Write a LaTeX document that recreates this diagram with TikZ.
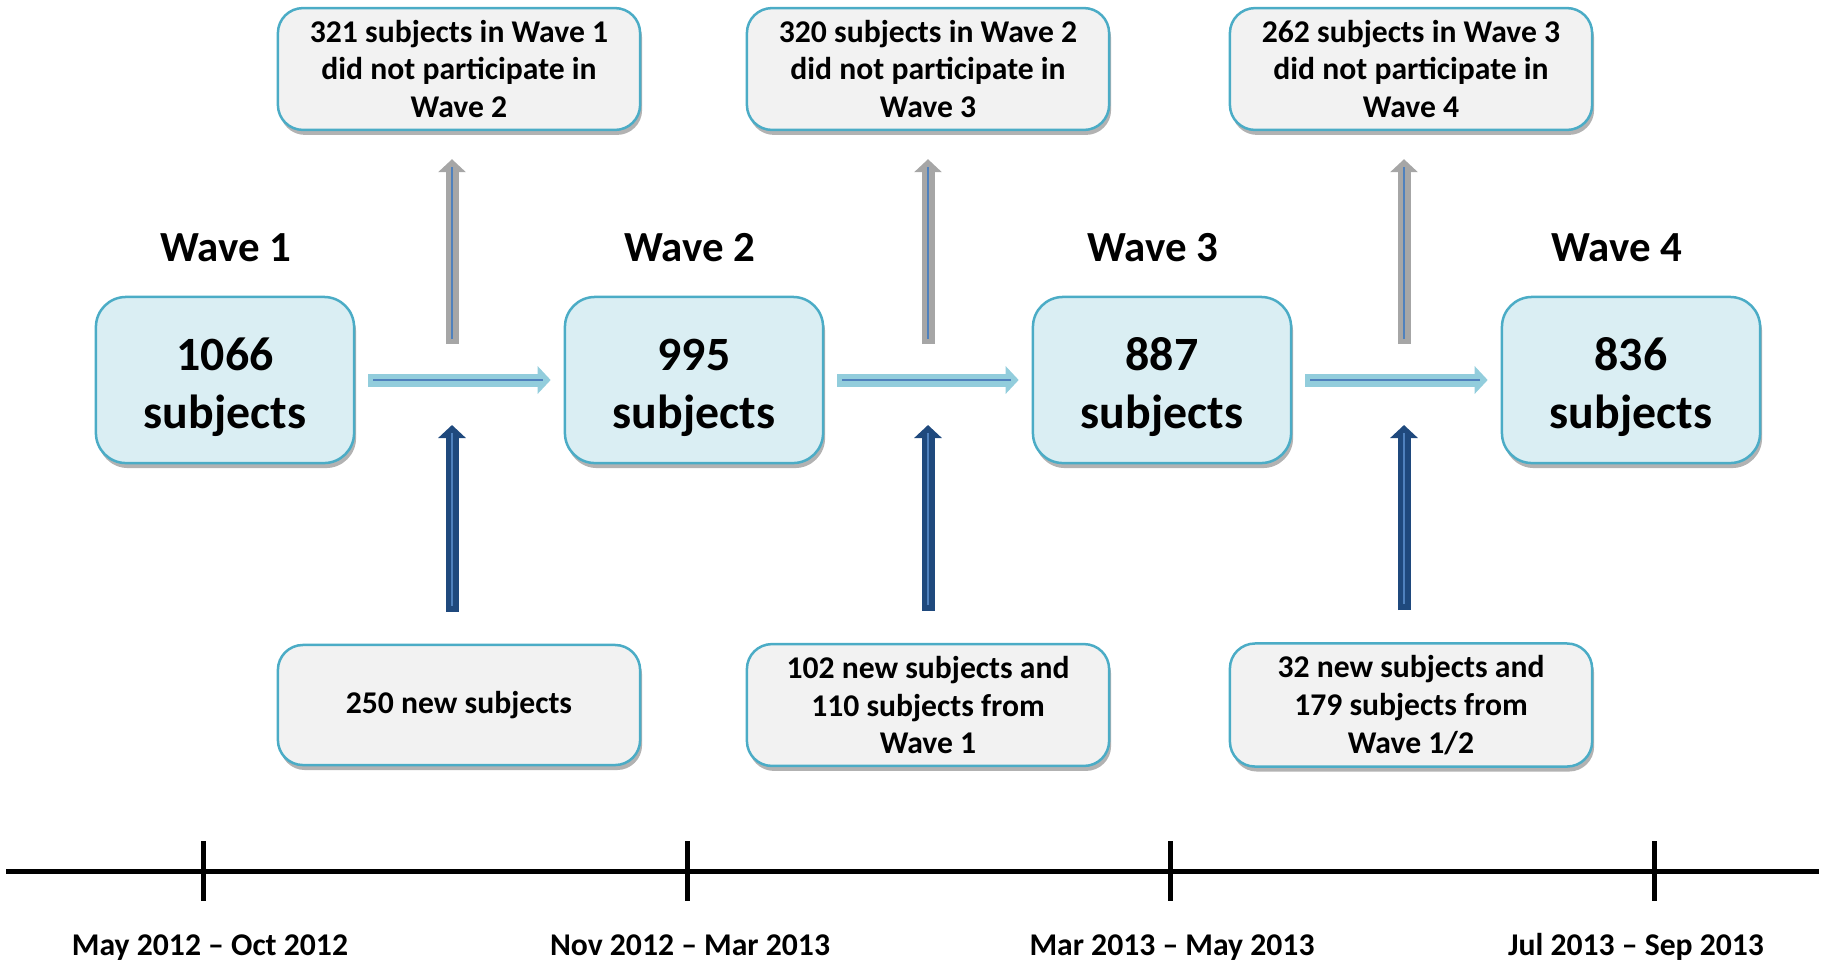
\documentclass[tikz,border=0pt]{standalone}
\usepackage{fontspec}
\setmainfont{Carlito}
\usepackage{xcolor}
\usetikzlibrary{positioning,calc,arrows.meta,shadows}

\definecolor{waveFill}{HTML}{DAEEF3}
\definecolor{waveDraw}{HTML}{4BACC6}
\definecolor{noteFill}{HTML}{F2F2F2}
\definecolor{flowFill}{HTML}{92CDDC}
\definecolor{lineBlue}{HTML}{4F81BD}
\definecolor{dropGrey}{HTML}{A6A6A6}
\definecolor{newBlue}{HTML}{1F497D}

\newcommand{\wavecount}[1]{\rule{0pt}{0.47cm}#1\\subjects}

\tikzset{
  boxshadow/.style={drop shadow={shadow xshift=0.02cm, shadow yshift=-0.05cm, opacity=0.3, fill=black}},
  wavebox/.style={draw=waveDraw, line width=0.025cm, fill=waveFill, rounded corners=0.3cm,
    minimum width=2.58cm, minimum height=1.66cm, align=center, boxshadow,
    font=\fontsize{13.6}{16.5}\selectfont\bfseries},
  notebox/.style={draw=waveDraw, line width=0.025cm, fill=noteFill, rounded corners=0.25cm,
    minimum width=3.62cm, minimum height=1.2cm, align=center, boxshadow,
    font=\fontsize{9}{10.8}\selectfont\bfseries},
  wavetitle/.style={font=\fontsize{12.2}{14}\selectfont\bfseries, anchor=base},
  datelabel/.style={font=\fontsize{9}{10}\selectfont\bfseries, anchor=base},
  flow/.style={line width=0.13cm, -{Triangle[length=0.13cm, width=0.27cm]}},
  inner/.style={line width=0.025cm},
  axis/.style={line width=0.05cm},
}

\begin{document}
\begin{tikzpicture}[x=0.01cm, y=-0.01cm]
    \useasboundingbox (0,0) rectangle (1825,966);

    % Waves
    \foreach \n/\x/\v in {1/225/1066, 2/694/995, 3/1162/887, 4/1631/836}
        \node[wavebox] (w\n) at (\x,380) {\wavecount{\v}};
    \foreach \n/\x in {1/226, 2/690, 3/1153, 4/1617}
        \node[wavetitle] (h\n) at (\x,261) {Wave \n};

    % Drop-outs
    \node[notebox] (t1) at (459,69) {321 subjects in Wave 1\\did not participate in\\Wave 2};
    \node[notebox] (t2) at (928,69) {320 subjects in Wave 2\\did not participate in\\Wave 3};
    \node[notebox] (t3) at (1411,69) {262 subjects in Wave 3\\did not participate in\\Wave 4};

    % New entries
    \node[notebox] (b1) at (459,705) {250 new subjects};
    \node[notebox] (b2) at (928,705) {102 new subjects and\\110 subjects from\\Wave 1};
    \node[notebox] (b3) at (1411,705) {32 new subjects and\\179 subjects from\\Wave 1/2};

    % Flow between waves
    \foreach \i/\j in {1/2, 2/3, 3/4} {
        \draw[flow, flowFill, shorten <=0.13cm, shorten >=0.13cm] (w\i.east) -- (w\j.west);
        \draw[inner, lineBlue, shorten <=0.18cm, shorten >=0.21cm] (w\i.east) -- (w\j.west);
    }

    % Up arrows
    \foreach \i/\x in {1/452, 2/928, 3/1404} {
        \coordinate (g\i) at (\x,344);
        \coordinate (n\i) at (\x,425);
        \draw[flow, dropGrey, shorten >=0.28cm] (g\i) -- (g\i |- t\i.south);
        \draw[inner, lineBlue, shorten <=0.05cm, shorten >=0.36cm] (g\i) -- (g\i |- t\i.south);
        \draw[flow, newBlue, shorten <=0.32cm] (b\i.north -| n\i) -- (n\i);
        \draw[inner, lineBlue, shorten <=0.38cm, shorten >=0.08cm] (b\i.north -| n\i) -- (n\i);
    }

    % Timeline
    \coordinate (tl0) at (6,871);
    \coordinate (tl1) at (1819,871);
    \draw[axis] (tl0) -- (tl1);
    \foreach \x in {203, 687, 1170, 1654}
        \draw[axis] (\x,841) -- (\x,901);
    \node[datelabel] (d1) at (210,955) {May 2012 -- Oct 2012};
    \node[datelabel] (d2) at (690,955) {Nov 2012 -- Mar 2013};
    \node[datelabel] (d3) at (1172,955) {Mar 2013 -- May 2013};
    \node[datelabel] (d4) at (1636,955) {Jul 2013 -- Sep 2013};
\end{tikzpicture}
\end{document}
